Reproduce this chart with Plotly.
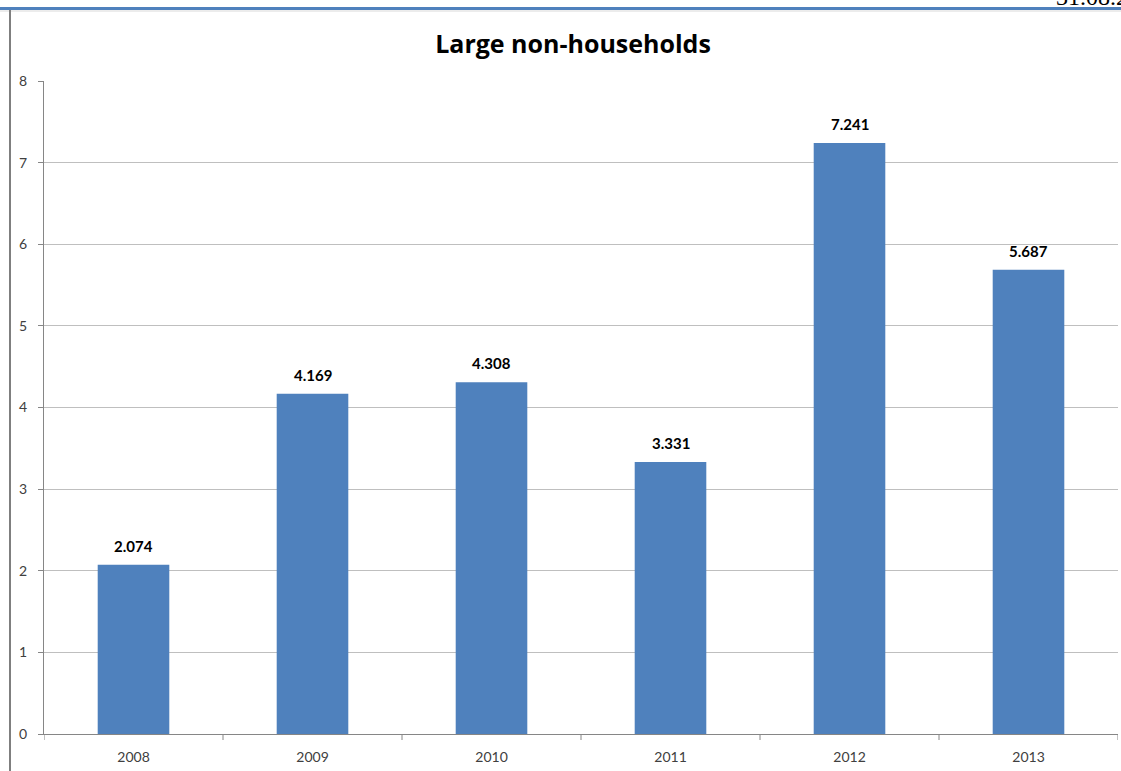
import plotly.graph_objects as go

years = ["2008", "2009", "2010", "2011", "2012", "2013"]
values = [2.074, 4.169, 4.308, 3.331, 7.241, 5.687]
y_ticks = [0, 1, 2, 3, 4, 5, 6, 7, 8]

W, H = 1121, 771
L, R, T, B = 44, 3, 81, 37
pw, ph = W - L - R, H - T - B


def px_x(x):
    return (x - L) / pw


def px_y(y):
    return (H - B - y) / ph


fig = go.Figure(
    go.Bar(
        x=years,
        y=values,
        marker=dict(color="#4F81BD", line=dict(width=0)),
        hoverinfo="x+y",
        cliponaxis=False,
    )
)

# value labels above each bar
for i, v in enumerate(values):
    fig.add_annotation(
        xref="x", yref="y", x=i, y=v, text=f"<b>{v:.3f}</b>", showarrow=False,
        yanchor="bottom", yshift=8,
        font=dict(family="Lato, Open Sans, sans-serif", size=15, color="#000000"),
    )

# category separator ticks on the x axis
for i in range(len(years) + 1):
    fig.add_shape(
        type="line", xref="x", yref="paper",
        x0=i - 0.5, x1=i - 0.5, y0=0, y1=-6 / ph,
        line=dict(color="#868686", width=1),
    )

# page frame: blue top rule, grey left edge
fig.add_shape(type="line", xref="paper", yref="paper",
              x0=px_x(0), x1=px_x(W), y0=px_y(8.5), y1=px_y(8.5),
              line=dict(color="#4F81BD", width=3))
fig.add_shape(type="line", xref="paper", yref="paper",
              x0=px_x(0), x1=px_x(W), y0=px_y(11), y1=px_y(11),
              line=dict(color="#D9D9D9", width=1))
fig.add_shape(type="line", xref="paper", yref="paper",
              x0=px_x(10), x1=px_x(10), y0=px_y(10), y1=px_y(H),
              line=dict(color="#7F7F7F", width=2))

fig.add_annotation(
    xref="paper", yref="paper", x=px_x(1054), y=px_y(12),
    xanchor="left", yanchor="bottom", text="31.08.2015", showarrow=False,
    font=dict(family="Liberation Serif, serif", size=24, color="#000000"),
)

fig.update_layout(
    width=W, height=H,
    margin=dict(l=L, r=R, t=T, b=B, pad=0),
    paper_bgcolor="white", plot_bgcolor="white",
    bargap=0.6,
    showlegend=False,
    title=dict(
        text="<b>Large non-households</b>",
        xref="container", yref="container",
        x=573 / W, xanchor="center", y=1 - 44 / H, yanchor="middle",
        font=dict(family="Open Sans, sans-serif", size=25, color="#000000"),
    ),
    xaxis=dict(
        type="category", showgrid=False, showline=True,
        linecolor="#868686", linewidth=1,
        ticks="outside", ticklen=10, tickcolor="rgba(0,0,0,0)",
        tickfont=dict(family="Lato, Open Sans, sans-serif", size=14, color="#404040"),
        range=[-0.5, len(years) - 0.5],
    ),
    yaxis=dict(
        range=[0, 8], tickvals=y_ticks, ticktext=[str(t) for t in y_ticks],
        showgrid=True, gridcolor="#BFBFBF", gridwidth=1,
        showline=True, linecolor="#868686", linewidth=1,
        ticks="outside", ticklen=5, tickcolor="#868686",
        ticklabelstandoff=8,
        tickfont=dict(family="Lato, Open Sans, sans-serif", size=14, color="#404040"),
        zeroline=False,
    ),
)

fig.write_html("out.html")
